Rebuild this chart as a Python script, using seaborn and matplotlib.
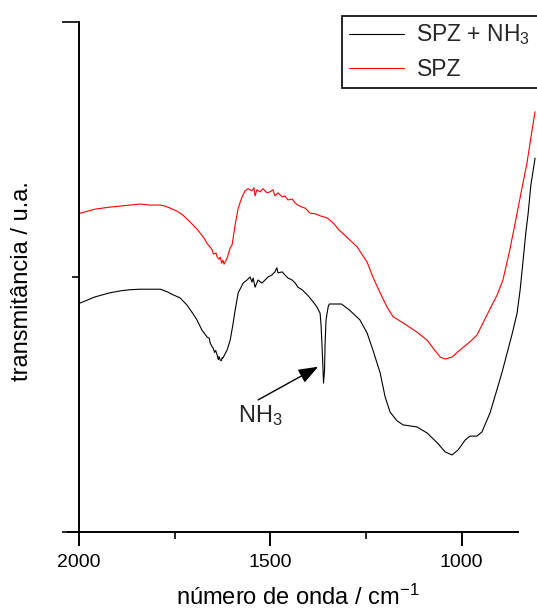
import matplotlib
matplotlib.use("Agg")
import matplotlib.pyplot as plt
import seaborn as sns

sns.set_theme(style="white")
plt.rcParams['font.family'] = ['Liberation Sans', 'DejaVu Sans']
plt.rcParams['mathtext.fontset'] = 'custom'
plt.rcParams['mathtext.rm'] = 'Liberation Sans'
plt.rcParams['mathtext.it'] = 'Liberation Sans:italic'

# Espectro SPZ + NH3 (preto)
wn_nh3 = [1997, 1958, 1919, 1890, 1867, 1841, 1814, 1788, 1770, 1754, 1736, 1718, 1705, 1692,
          1679, 1665, 1660, 1657, 1652, 1649, 1646, 1643, 1639, 1636, 1634, 1631, 1628, 1626,
          1624, 1613, 1605, 1598, 1592, 1584, 1571, 1561, 1553, 1548, 1545, 1540, 1532, 1522,
          1514, 1506, 1496, 1488, 1483, 1480, 1469, 1462, 1454, 1443, 1435, 1428, 1417, 1409,
          1401, 1388, 1378, 1370, 1367.5, 1365, 1362.3, 1361, 1358.3, 1357, 1354.4, 1349, 1346,
          1314, 1293, 1266, 1247, 1232, 1213, 1200, 1187, 1169, 1153, 1117, 1090, 1064, 1043,
          1025, 1009, 991, 978, 960, 947, 926, 908, 894, 881, 868, 855, 847, 840, 832, 826,
          819, 808]
t_nh3 = [44.9, 46.1, 46.9, 47.3, 47.5, 47.6, 47.6, 47.6, 47.1, 46.5, 45.9, 44.5, 43.1, 41.6,
         39.6, 38.2, 38.0, 37.0, 36.3, 36.0, 35.2, 35.6, 34.7, 33.8, 34.4, 33.7, 33.6, 34.2,
         34.1, 35.7, 37.6, 40.6, 43.5, 46.9, 48.8, 49.4, 50.0, 49.0, 49.8, 48.0, 49.4, 48.8,
         49.4, 50.0, 50.4, 51.0, 51.8, 50.8, 51.0, 50.4, 49.8, 49.4, 48.8, 48.0, 47.5, 46.9,
         46.3, 45.1, 44.1, 42.9, 40.6, 36.7, 31.8, 29.2, 31.8, 36.7, 41.6, 44.1, 44.7,
         44.7, 43.5, 41.6, 39.0, 35.7, 31.2, 26.5, 23.5, 21.8, 21.0, 20.6, 19.4, 17.5, 15.7,
         15.1, 16.1, 18.0, 18.8, 18.8, 19.6, 23.3, 27.8, 31.4, 35.1, 38.8, 42.9, 47.5, 52.7,
         58.8, 62.5, 68.0, 73.3]

# Espectro SPZ (vermelho)
wn_spz = [1997, 1958, 1919, 1867, 1841, 1814, 1788, 1775, 1762, 1744, 1728, 1710, 1692, 1679,
          1673, 1665, 1660, 1652, 1649, 1642, 1639, 1634, 1631, 1627, 1624, 1621, 1613, 1605,
          1600, 1592, 1584, 1574, 1566, 1558, 1548, 1543, 1540, 1535, 1527, 1519, 1509, 1501,
          1493, 1488, 1480, 1469, 1462, 1454, 1443, 1435, 1428, 1417, 1409, 1396, 1383, 1370,
          1352, 1339, 1331, 1323, 1300, 1273, 1247, 1232, 1213, 1195, 1179, 1153, 1117, 1090,
          1075, 1056, 1043, 1025, 1004, 978, 960, 944, 926, 907, 892, 874, 855, 842, 829,
          819, 808]
t_spz = [62.5, 63.3, 63.7, 64.1, 64.3, 64.1, 64.1, 63.9, 63.5, 62.9, 62.1, 60.8, 59.4, 58.2,
         57.6, 56.5, 56.1, 55.3, 54.5, 54.7, 53.9, 53.5, 53.9, 52.7, 53.3, 52.5, 53.7, 55.7,
         56.3, 60.2, 63.5, 65.7, 66.9, 67.3, 66.9, 67.5, 65.9, 67.1, 66.7, 67.3, 66.5, 66.7,
         67.1, 65.9, 66.5, 65.7, 65.9, 65.1, 65.3, 64.5, 64.1, 63.7, 63.5, 62.5, 62.4, 62.0,
         61.6, 60.8, 60.2, 59.4, 57.8, 55.9, 52.9, 50.0, 46.9, 44.1, 42.2, 41.0, 39.2, 37.6,
         36.1, 34.3, 33.9, 34.3, 35.7, 37.3, 38.6, 41.0, 43.7, 46.5, 49.4, 55.3, 62.5, 67.5,
         72.4, 77.3, 82.4]

fig = plt.figure(figsize=(5.37, 6.14), dpi=100)
ax = fig.add_axes([0.1266, 0.1336, 0.8715, 0.8306])

sns.lineplot(x=wn_nh3, y=t_nh3, color='black', lw=0.8, label='SPZ + NH$_\\mathregular{3}$',
             estimator=None, sort=False, ax=ax)
sns.lineplot(x=wn_spz, y=t_spz, color='red', lw=0.8, label='SPZ',
             estimator=None, sort=False, ax=ax)

ax.set_xlim(2029, 805.6)
ax.set_ylim(0, 100)

ax.spines['top'].set_visible(False)
ax.spines['right'].set_visible(False)
ax.spines['left'].set_position(('data', 2000))
ax.spines['left'].set_bounds(0, 100)
ax.spines['bottom'].set_bounds(852, 2029)
for s in ['left', 'bottom']:
    ax.spines[s].set_color('black')
    ax.spines[s].set_linewidth(1.4)

ax.set_xticks([2000, 1500, 1000])
ax.set_xticks([1750, 1250], minor=True)
ax.set_yticks([0, 100])
ax.set_yticks([50], minor=True)
ax.set_yticklabels([])
ax.tick_params(axis='x', which='major', direction='out', length=10, width=1.4,
               labelsize=14, pad=6, bottom=True, colors='black')
ax.tick_params(axis='x', which='minor', direction='out', length=5, width=1.4, bottom=True)
ax.tick_params(axis='y', which='major', direction='out', length=12, width=1.4, left=True)
ax.tick_params(axis='y', which='minor', direction='out', length=5, width=1.4, left=True)

ax.set_xlabel('número de onda / cm$^{\\mathregular{-1}}$', fontsize=17, color='black')
ax.xaxis.set_label_coords(0.49, -0.104)
ax.set_ylabel('transmitância / u.a.', fontsize=17, color='black')
ax.yaxis.set_label_coords(-0.075, 0.492)

# seta indicando a banda de NH3
ax.annotate('', xy=(1375, 32.4), xytext=(1532, 25.9),
            arrowprops=dict(arrowstyle='-|>,head_length=0.8,head_width=0.3',
                            color='black', lw=1.0, mutation_scale=15, shrinkA=0, shrinkB=0))
ax.text(1584, 21.6, 'NH$_\\mathregular{3}$', fontsize=17, ha='left', va='baseline')

# legenda esticada para passar da borda direita, como no original
leg = ax.legend(loc='upper left', bbox_to_anchor=(0.6369, 0.5, 0.45, 0.4744),
                bbox_transform=fig.transFigure, mode='expand',
                frameon=True, fancybox=False, fontsize=16.5, handlelength=2.4, handletextpad=0.55,
                borderpad=0.3, labelspacing=0.45, borderaxespad=0)
leg.get_frame().set_edgecolor('black')
leg.get_frame().set_linewidth(1.2)
leg.get_frame().set_alpha(1)

fig.savefig('out.png', dpi=100)
